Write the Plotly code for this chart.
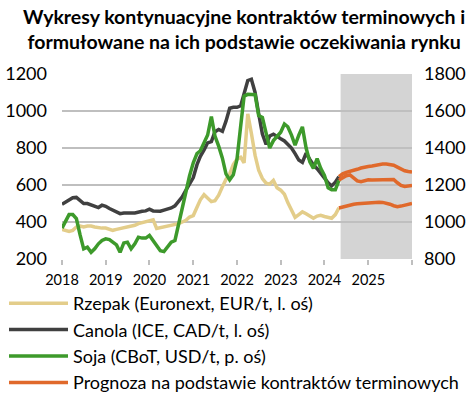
import pandas as pd
import plotly.graph_objects as go

# ---- data (monthly, Jan 2018 - May 2024) ----
hist_start = "2018-01-01"
rzepak = [360, 355, 349, 355, 373, 378, 373, 378, 378, 373, 369, 367,
          367, 360, 355, 360, 364, 367, 373, 378, 382, 391, 396, 404,
          409, 412, 365, 370, 373, 378, 382, 385, 391, 400, 409, 427,
          435, 480, 520, 548, 530, 510, 515, 545, 590, 630, 660, 710,
          740, 750, 720, 985, 880, 760, 680, 635, 610, 605, 625, 585,
          572, 550, 505, 460, 425, 440, 455, 445, 432, 420, 432, 436,
          430, 425, 420, 440, 476]
canola = [496, 509, 522, 531, 533, 518, 500, 500, 491, 485, 478, 491,
          485, 473, 464, 458, 445, 449, 451, 449, 449, 455, 458, 460,
          469, 460, 460, 458, 464, 469, 476, 487, 509, 536, 573, 610,
          640, 710, 755, 790, 828, 835, 888, 900, 890, 945, 1015, 1020,
          1020, 1028, 1095, 1165, 1172, 1100, 985, 875, 820, 865, 875, 860,
          850, 838, 820, 800, 770, 735, 722, 772, 738, 708, 688, 662,
          640, 612, 595, 615, 645]
soja = [967, 1009, 1040, 1040, 1018, 930, 855, 864, 836, 855, 882, 900,
        909, 905, 891, 876, 836, 887, 891, 855, 882, 918, 913, 913,
        927, 900, 873, 845, 840, 864, 891, 900, 990, 1070, 1160, 1250,
        1320, 1370, 1385, 1430, 1470, 1570, 1465, 1410, 1345, 1260, 1228, 1255,
        1340, 1520, 1680, 1690, 1690, 1688, 1575, 1565, 1480, 1400, 1440, 1460,
        1485, 1530, 1515, 1470, 1415, 1470, 1514, 1400, 1325, 1290, 1342, 1290,
        1252, 1185, 1175, 1175, 1225]

# ---- forecasts (monthly, May 2024 - Jan 2026) ----
fc_start = "2024-05-01"
fc_rzepak = [476, 482, 488, 493, 496, 499, 501, 503, 505, 507, 508,
             507, 506, 502, 496, 488, 483, 486, 490, 495, 500]
fc_canola = [645, 660, 668, 673, 677, 685, 692, 698, 700, 703, 707,
             711, 713, 714, 712, 707, 697, 685, 677, 673, 670]
fc_soja = [1227, 1240, 1250, 1255, 1235, 1222, 1218, 1225, 1228, 1227, 1227,
           1230, 1231, 1231, 1231, 1230, 1212, 1198, 1192, 1193, 1198]

years = [2018, 2019, 2020, 2021, 2022, 2023, 2024, 2025, 2026]
year_labels = ["2018", "2019", "2020", "2021", "2022", "2023", "2024", "2025", ""]

title_text = "<b>Wykresy kontynuacyjne kontraktów terminowych i<br>formułowane na ich podstawie oczekiwania rynku</b>"

hist_x = pd.date_range(hist_start, periods=len(rzepak), freq="MS")
fc_x = pd.date_range(fc_start, periods=len(fc_rzepak), freq="MS")

C_Y = "#e3cd8a"
C_K = "#404040"
C_G = "#3d9a2b"
C_O = "#e0692b"
LW = 3.5
FONT = "Lato"

fig = go.Figure()
fig.add_trace(go.Scatter(x=hist_x, y=rzepak, mode="lines", name="Rzepak (Euronext, EUR/t, l. oś)",
                         line=dict(color=C_Y, width=LW)))
fig.add_trace(go.Scatter(x=hist_x, y=canola, mode="lines", name="Canola (ICE, CAD/t, l. oś)",
                         line=dict(color=C_K, width=LW)))
fig.add_trace(go.Scatter(x=hist_x, y=soja, mode="lines", name="Soja (CBoT, USD/t, p. oś)",
                         line=dict(color=C_G, width=LW), yaxis="y2"))
fig.add_trace(go.Scatter(x=fc_x, y=fc_canola, mode="lines", name="Prognoza na podstawie kontraktów terminowych",
                         line=dict(color=C_O, width=LW)))
fig.add_trace(go.Scatter(x=fc_x, y=fc_rzepak, mode="lines", showlegend=False,
                         line=dict(color=C_O, width=LW)))
fig.add_trace(go.Scatter(x=fc_x, y=fc_soja, mode="lines", showlegend=False,
                         line=dict(color=C_O, width=LW), yaxis="y2"))

fig.add_shape(type="rect", xref="x", yref="paper", x0="2024-05-15", x1="2026-01-01",
              y0=0, y1=1, fillcolor="#d4d4d4", line=dict(width=0), layer="below")

fig.add_annotation(text=title_text, xref="paper", yref="paper", x=0.52, xanchor="center",
                   y=1 + 71 / 185, yanchor="top", showarrow=False, align="center",
                   font=dict(family=FONT, size=19.5, color="#000000"))

fig.update_layout(
    width=474, height=393,
    margin=dict(l=62, r=62, t=74, b=134, autoexpand=False),
    paper_bgcolor="white", plot_bgcolor="white",
    font=dict(family=FONT, size=18, color="#000000"),
    xaxis=dict(type="date", range=["2018-01-01", "2026-01-01"],
               tickvals=[f"{y}-01-01" for y in years], ticktext=year_labels,
               showgrid=False, ticks="outside", ticklen=5, tickcolor="#bfbfbf", tickwidth=1.5,
               showline=False, zeroline=False, tickfont=dict(size=14.5), automargin=False,
               ticklabelstandoff=3),
    yaxis=dict(range=[200, 1200], tickvals=[200, 400, 600, 800, 1000, 1200],
               showgrid=True, gridcolor="#bfbfbf", gridwidth=1.5, zeroline=False,
               ticks="", tickfont=dict(size=18), automargin=False, ticklabelstandoff=14),
    yaxis2=dict(range=[800, 1800], tickvals=[800, 1000, 1200, 1400, 1600, 1800],
                overlaying="y", side="right", showgrid=False, zeroline=False,
                ticks="", tickfont=dict(size=18), automargin=False, ticklabelstandoff=11),
    legend=dict(xref="container", yref="container", x=4 / 474, xanchor="left",
                y=1 - 285 / 393, yanchor="top", orientation="v",
                itemwidth=59, tracegroupgap=0, font=dict(size=18),
                bgcolor="rgba(0,0,0,0)"),
    showlegend=True,
)

fig.write_html("out.html", config={"displayModeBar": False},
               post_script="document.body.style.margin='0';document.body.style.padding='0';")
